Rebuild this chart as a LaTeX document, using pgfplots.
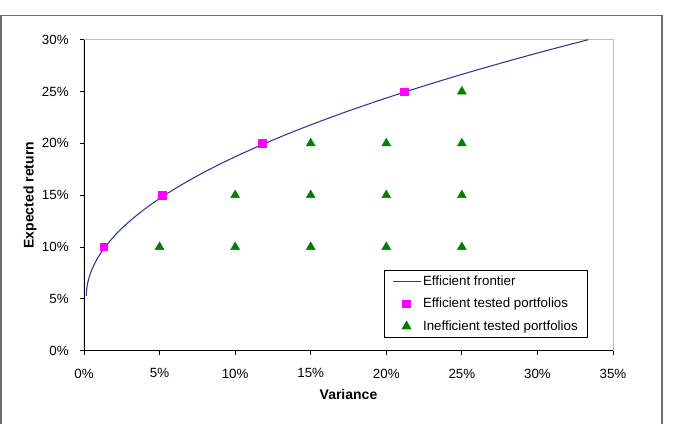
\documentclass[border=0pt]{standalone}
\usepackage{fontspec}
\setmainfont{Liberation Sans}
\usepackage{pgfplots}
\pgfplotsset{compat=1.18}
\definecolor{frontier}{RGB}{51,51,153}
\definecolor{effpink}{RGB}{255,0,255}
\definecolor{ineffgreen}{RGB}{0,128,0}
\definecolor{framegray}{RGB}{110,110,110}

\begin{document}
\begin{tikzpicture}[x=0.75pt,y=0.75pt]
% page = 674 x 424 px, axis box at 84..613 px across, 40..351 px down
\useasboundingbox (-84,-73.3) rectangle (590,350.7);
\draw[framegray, line width=0.9pt] (-83,-80) -- (-83,335.5) -- (578,335.5) -- (578,-80);
\begin{axis}[
  scale only axis,
  width=396.75pt, height=233.25pt,
  xmin=0, xmax=35, ymin=0, ymax=30,
  xtick={0,5,...,35}, ytick={0,5,...,30},
  xticklabel={\pgfmathprintnumber[assume math mode=true]{\tick}\%},
  yticklabel={\pgfmathprintnumber[assume math mode=true]{\tick}\%},
  xtick pos=bottom, ytick pos=left,
  tick align=outside, major tick length=3pt,
  tick style={black, line width=0.6pt},
  axis line style={draw=gray!50, line width=0.6pt},
  tick label style={font=\fontsize{10}{12}\selectfont},
  xticklabel style={yshift=-7pt},
  yticklabel style={xshift=-5pt},
  xlabel={\textbf{Variance}}, ylabel={\textbf{Expected return}},
  label style={font=\fontsize{10.5}{12}\selectfont},
  xlabel style={at={(axis description cs:0.5,-0.1415)}, anchor=center},
  ylabel style={at={(axis description cs:-0.102,0.5)}, anchor=center},
  legend cell align=left,
  legend style={at={(0.953,0.041)}, anchor=south east, draw=black,
    line width=0.6pt, font=\fontsize{10}{12}\selectfont,
    inner xsep=6pt, inner ysep=2pt, row sep=4pt,
    nodes={inner xsep=1.5pt}},
]
\addplot[frontier, line width=0.8pt, smooth, no marks,
  legend image code/.code={\draw[##1] (0.3cm-10.5pt,0pt) -- (0.3cm+10.5pt,0pt);}] coordinates {
  (0.151,5.3) (0.155,5.5) (0.185,6) (0.241,6.5) (0.325,7) (0.436,7.5)
  (0.573,8) (0.738,8.5) (0.930,9) (1.148,9.5) (1.394,10) (1.967,11)
  (2.647,12) (3.435,13) (4.332,14) (5.336,15) (6.449,16) (7.669,17)
  (8.997,18) (10.434,19) (11.978,20) (13.631,21) (15.391,22) (17.259,23)
  (19.236,24) (21.320,25) (23.513,26) (25.813,27) (28.221,28) (30.738,29)
  (33.362,30)
};
\addlegendentry{Efficient frontier}
\addplot[only marks, mark=square*, mark size=2.8pt, color=effpink] coordinates {
  (1.32,10) (5.18,15) (11.8,20) (21.2,25)
};
\addlegendentry{Efficient tested portfolios}
\addplot[only marks, mark=triangle*, mark size=3.8pt, color=ineffgreen] coordinates {
  (5,10) (10,10) (15,10) (20,10) (25,10)
  (10,15) (15,15) (20,15) (25,15)
  (15,20) (20,20) (25,20)
  (25,25)
};
\addlegendentry{Inefficient tested portfolios}
\draw[black, line width=0.8pt] (rel axis cs:0,1) -- (rel axis cs:0,0) -- (rel axis cs:1,0);
\end{axis}
\end{tikzpicture}
\end{document}
